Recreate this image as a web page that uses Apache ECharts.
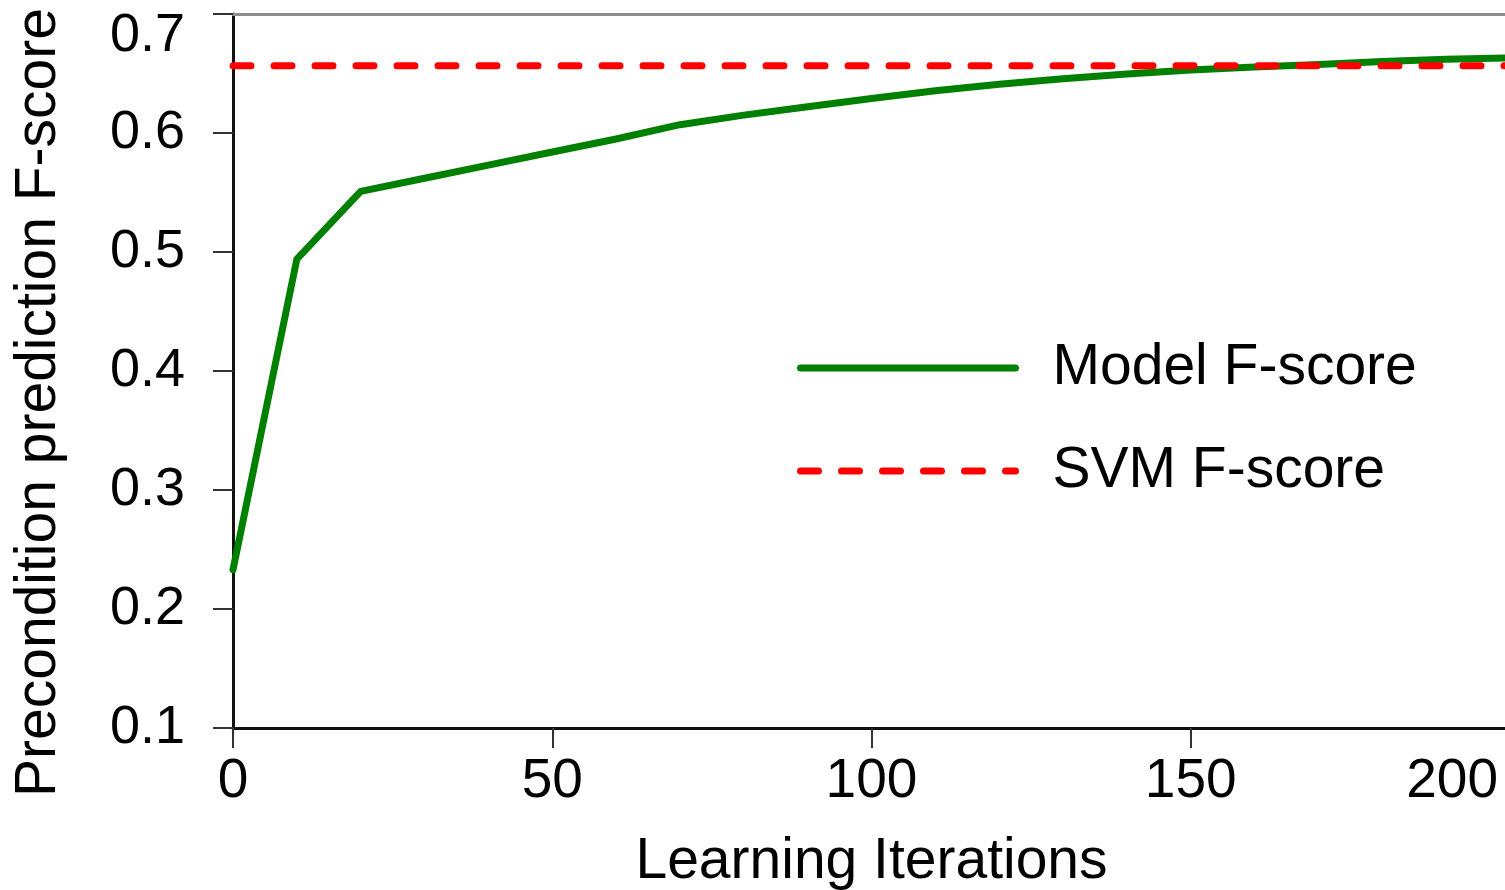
<!DOCTYPE html>
<html>
<head>
<meta charset="utf-8">
<script src="https://cdn.jsdelivr.net/npm/echarts@6/dist/echarts.min.js"></script>
<style>
html,body{margin:0;padding:0;background:#fff;overflow:hidden;}
#chart{width:1505px;height:890px;}
</style>
</head>
<body>
<div id="chart"></div>
<script>
// Data
var iterations = [0, 10, 20, 30, 40, 50, 60, 70, 80, 90, 100, 110, 120, 130, 140, 150, 160, 170, 180, 190, 200];
var modelFScore = [0.233, 0.494, 0.551, 0.562, 0.573, 0.584, 0.595, 0.607, 0.615, 0.622, 0.629, 0.6355, 0.641, 0.6455, 0.6495, 0.653, 0.6555, 0.6575, 0.660, 0.662, 0.663];
var svmFScore = 0.6565;
var svmRange = [0, 200];
var xTicks = [0, 50, 100, 150, 200];
var yTicks = [0.1, 0.2, 0.3, 0.4, 0.5, 0.6, 0.7];

var FONT = '"Liberation Sans", Arial, Helvetica, sans-serif';
var chart = echarts.init(document.getElementById('chart'), null, {renderer: 'canvas'});

var modelData = iterations.map(function (x, i) { return [x, modelFScore[i]]; });
var svmData = svmRange.map(function (x) { return [x, svmFScore]; });
var xLast = xTicks[xTicks.length - 1];
var yLast = yTicks[yTicks.length - 1];

chart.setOption({
  animation: false,
  backgroundColor: '#ffffff',
  grid: {left: 233, right: -5, top: 14, bottom: 162, containLabel: false, outerBoundsMode: 'none'},
  legend: {
    orient: 'vertical',
    left: 797,
    top: 338,
    padding: 0,
    itemWidth: 215,
    itemHeight: 20,
    itemGap: 43,
    itemStyle: {opacity: 0},
    lineStyle: {width: 7},
    textStyle: {fontFamily: FONT, fontSize: 57, color: '#000', lineHeight: 60, padding: [0, 0, 0, 32]},
    data: ['Model F-score', 'SVM F-score']
  },
  xAxis: [{
    type: 'value',
    min: 0, max: 200, interval: 50,
    name: 'Learning Iterations',
    nameLocation: 'middle',
    nameGap: 106,
    nameTextStyle: {fontFamily: FONT, fontSize: 57, color: '#000'},
    axisLine: {show: true, onZero: false, lineStyle: {color: '#111', width: 3}},
    axisTick: {show: true, inside: false, length: 20, lineStyle: {color: '#333', width: 2}},
    axisLabel: {
      fontFamily: FONT, fontSize: 55, color: '#000', margin: 26,
      showMaxLabel: true, alignMaxLabel: 'right',
      formatter: function (v) { return xTicks.indexOf(v) >= 0 ? (v === xLast ? '{last|' + v + '}' : String(v)) : ''; },
      rich: {last: {fontFamily: FONT, fontSize: 55, color: '#000', padding: [0, 12, 0, 0]}}
    },
    splitLine: {show: false}
  }, {
    type: 'value',
    position: 'top',
    min: 0, max: 200, interval: 50,
    axisLine: {show: true, onZero: false, lineStyle: {color: '#8c8c8c', width: 3}},
    axisTick: {show: false},
    axisLabel: {show: false},
    splitLine: {show: false}
  }],
  yAxis: {
    type: 'value',
    min: 0.1, max: 0.7, interval: 0.1,
    name: 'Precondition prediction F-score',
    nameLocation: 'middle',
    nameGap: 165,
    nameRotate: 90,
    nameTextStyle: {fontFamily: FONT, fontSize: 57, color: '#000', padding: [0, 63, 0, 0]},
    axisLine: {show: true, onZero: false, lineStyle: {color: '#111', width: 3}},
    axisTick: {show: true, inside: false, length: 20, lineStyle: {color: '#333', width: 2}},
    axisLabel: {
      fontFamily: FONT, fontSize: 54, color: '#000', margin: 48,
      showMaxLabel: true,
      formatter: function (v) {
        var s = v.toFixed(1);
        return Math.abs(v - yLast) < 1e-9 ? '{top|' + s + '}' : s;
      },
      rich: {top: {fontFamily: FONT, fontSize: 54, color: '#000', padding: [45, 0, 0, 0]}}
    },
    splitLine: {show: false}
  },
  series: [{
    name: 'Model F-score',
    type: 'line',
    data: modelData,
    showSymbol: false,
    symbol: 'none',
    smooth: false,
    lineStyle: {color: '#008000', width: 7, cap: 'round', join: 'round'},
    itemStyle: {color: '#008000'},
    z: 2
  }, {
    name: 'SVM F-score',
    type: 'line',
    data: svmData,
    showSymbol: false,
    symbol: 'none',
    lineStyle: {color: '#ff0000', width: 7, type: [18, 23], cap: 'round'},
    itemStyle: {color: '#ff0000'},
    z: 3
  }]
});
</script>
</body>
</html>
